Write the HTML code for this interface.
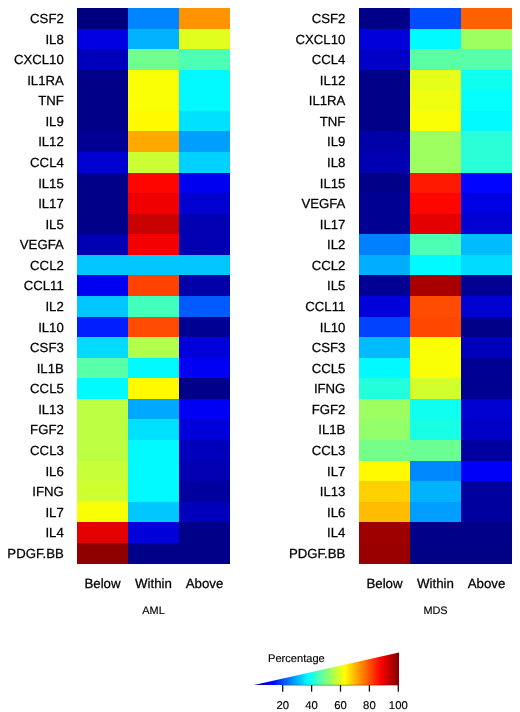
<!DOCTYPE html>
<html><head><meta charset="utf-8"><title>Heatmap</title>
<style>
html,body{margin:0;padding:0;background:#fff;}
body{width:520px;height:712px;overflow:hidden;}
svg{display:block;}
text{font-family:"Liberation Sans",Arial,Helvetica,sans-serif;fill:#000;stroke:#000;stroke-width:0.25px;}
.rl{font-size:13.2px;}
.cl{font-size:13.3px;}
.tt{font-size:10.9px;stroke-width:0.15px;}
.tk{font-size:11.3px;stroke-width:0.15px;}
.pc{font-size:11.1px;stroke-width:0.15px;}
</style></head><body>
<svg width="520" height="712" viewBox="0 0 520 712" shape-rendering="crispEdges" text-rendering="geometricPrecision">
<rect width="520" height="712" fill="#fff"/>
<rect x="77.00" y="8.00" width="51.30" height="20.87" fill="#00007f"/>
<rect x="128.00" y="8.00" width="51.30" height="20.87" fill="#0084ff"/>
<rect x="179.00" y="8.00" width="51.00" height="20.87" fill="#ff9300"/>
<text class="rl" x="63.8" y="22.99" text-anchor="end">CSF2</text>
<rect x="77.00" y="28.57" width="51.30" height="20.87" fill="#0000e0"/>
<rect x="128.00" y="28.57" width="51.30" height="20.87" fill="#00b2ff"/>
<rect x="179.00" y="28.57" width="51.00" height="20.87" fill="#e0ff1e"/>
<text class="rl" x="63.8" y="43.56" text-anchor="end">IL8</text>
<rect x="77.00" y="49.15" width="51.30" height="20.87" fill="#0000bc"/>
<rect x="128.00" y="49.15" width="51.30" height="20.87" fill="#70ff8e"/>
<rect x="179.00" y="49.15" width="51.00" height="20.87" fill="#4cffb2"/>
<text class="rl" x="63.8" y="64.14" text-anchor="end">CXCL10</text>
<rect x="77.00" y="69.72" width="51.30" height="20.87" fill="#000089"/>
<rect x="128.00" y="69.72" width="51.30" height="20.87" fill="#faff05"/>
<rect x="179.00" y="69.72" width="51.00" height="20.87" fill="#00faff"/>
<text class="rl" x="63.8" y="84.71" text-anchor="end">IL1RA</text>
<rect x="77.00" y="90.30" width="51.30" height="20.87" fill="#000089"/>
<rect x="128.00" y="90.30" width="51.30" height="20.87" fill="#faff05"/>
<rect x="179.00" y="90.30" width="51.00" height="20.87" fill="#00faff"/>
<text class="rl" x="63.8" y="105.28" text-anchor="end">TNF</text>
<rect x="77.00" y="110.87" width="51.30" height="20.87" fill="#000089"/>
<rect x="128.00" y="110.87" width="51.30" height="20.87" fill="#fffa00"/>
<rect x="179.00" y="110.87" width="51.00" height="20.87" fill="#00e0ff"/>
<text class="rl" x="63.8" y="125.86" text-anchor="end">IL9</text>
<rect x="77.00" y="131.44" width="51.30" height="20.87" fill="#000093"/>
<rect x="128.00" y="131.44" width="51.30" height="20.87" fill="#ffa800"/>
<rect x="179.00" y="131.44" width="51.00" height="20.87" fill="#009eff"/>
<text class="rl" x="63.8" y="146.43" text-anchor="end">IL12</text>
<rect x="77.00" y="152.02" width="51.30" height="20.87" fill="#0000d1"/>
<rect x="128.00" y="152.02" width="51.30" height="20.87" fill="#ccff33"/>
<rect x="179.00" y="152.02" width="51.00" height="20.87" fill="#00d1ff"/>
<text class="rl" x="63.8" y="167.01" text-anchor="end">CCL4</text>
<rect x="77.00" y="172.59" width="51.30" height="20.87" fill="#000089"/>
<rect x="128.00" y="172.59" width="51.30" height="20.87" fill="#ff0500"/>
<rect x="179.00" y="172.59" width="51.00" height="20.87" fill="#0000f0"/>
<text class="rl" x="63.8" y="187.58" text-anchor="end">IL15</text>
<rect x="77.00" y="193.17" width="51.30" height="20.87" fill="#000089"/>
<rect x="128.00" y="193.17" width="51.30" height="20.87" fill="#f00000"/>
<rect x="179.00" y="193.17" width="51.00" height="20.87" fill="#0000d1"/>
<text class="rl" x="63.8" y="208.15" text-anchor="end">IL17</text>
<rect x="77.00" y="213.74" width="51.30" height="20.87" fill="#000089"/>
<rect x="128.00" y="213.74" width="51.30" height="20.87" fill="#c70000"/>
<rect x="179.00" y="213.74" width="51.00" height="20.87" fill="#0000b2"/>
<text class="rl" x="63.8" y="228.73" text-anchor="end">IL5</text>
<rect x="77.00" y="234.31" width="51.30" height="20.87" fill="#0000b2"/>
<rect x="128.00" y="234.31" width="51.30" height="20.87" fill="#f50000"/>
<rect x="179.00" y="234.31" width="51.00" height="20.87" fill="#0000b2"/>
<text class="rl" x="63.8" y="249.30" text-anchor="end">VEGFA</text>
<rect x="77.00" y="254.89" width="51.30" height="20.87" fill="#00c7ff"/>
<rect x="128.00" y="254.89" width="51.30" height="20.87" fill="#00c7ff"/>
<rect x="179.00" y="254.89" width="51.00" height="20.87" fill="#00c7ff"/>
<text class="rl" x="63.8" y="269.88" text-anchor="end">CCL2</text>
<rect x="77.00" y="275.46" width="51.30" height="20.87" fill="#0000f0"/>
<rect x="128.00" y="275.46" width="51.30" height="20.87" fill="#ff4200"/>
<rect x="179.00" y="275.46" width="51.00" height="20.87" fill="#0000a8"/>
<text class="rl" x="63.8" y="290.45" text-anchor="end">CCL11</text>
<rect x="77.00" y="296.04" width="51.30" height="20.87" fill="#00c7ff"/>
<rect x="128.00" y="296.04" width="51.30" height="20.87" fill="#42ffbc"/>
<rect x="179.00" y="296.04" width="51.00" height="20.87" fill="#005bff"/>
<text class="rl" x="63.8" y="311.02" text-anchor="end">IL2</text>
<rect x="77.00" y="316.61" width="51.30" height="20.87" fill="#001eff"/>
<rect x="128.00" y="316.61" width="51.30" height="20.87" fill="#ff4c00"/>
<rect x="179.00" y="316.61" width="51.00" height="20.87" fill="#000093"/>
<text class="rl" x="63.8" y="331.60" text-anchor="end">IL10</text>
<rect x="77.00" y="337.19" width="51.30" height="20.87" fill="#00dbff"/>
<rect x="128.00" y="337.19" width="51.30" height="20.87" fill="#b2ff4c"/>
<rect x="179.00" y="337.19" width="51.00" height="20.87" fill="#0000db"/>
<text class="rl" x="63.8" y="352.17" text-anchor="end">CSF3</text>
<rect x="77.00" y="357.76" width="51.30" height="20.87" fill="#56ffa8"/>
<rect x="128.00" y="357.76" width="51.30" height="20.87" fill="#00faff"/>
<rect x="179.00" y="357.76" width="51.00" height="20.87" fill="#0000f5"/>
<text class="rl" x="63.8" y="372.75" text-anchor="end">IL1B</text>
<rect x="77.00" y="378.33" width="51.30" height="20.87" fill="#00faff"/>
<rect x="128.00" y="378.33" width="51.30" height="20.87" fill="#fffa00"/>
<rect x="179.00" y="378.33" width="51.00" height="20.87" fill="#000089"/>
<text class="rl" x="63.8" y="393.32" text-anchor="end">CCL5</text>
<rect x="77.00" y="398.91" width="51.30" height="20.87" fill="#bcff42"/>
<rect x="128.00" y="398.91" width="51.30" height="20.87" fill="#00a8ff"/>
<rect x="179.00" y="398.91" width="51.00" height="20.87" fill="#0000f5"/>
<text class="rl" x="63.8" y="413.89" text-anchor="end">IL13</text>
<rect x="77.00" y="419.48" width="51.30" height="20.87" fill="#bcff42"/>
<rect x="128.00" y="419.48" width="51.30" height="20.87" fill="#00e0ff"/>
<rect x="179.00" y="419.48" width="51.00" height="20.87" fill="#0000db"/>
<text class="rl" x="63.8" y="434.47" text-anchor="end">FGF2</text>
<rect x="77.00" y="440.06" width="51.30" height="20.87" fill="#bcff42"/>
<rect x="128.00" y="440.06" width="51.30" height="20.87" fill="#00faff"/>
<rect x="179.00" y="440.06" width="51.00" height="20.87" fill="#0000bc"/>
<text class="rl" x="63.8" y="455.04" text-anchor="end">CCL3</text>
<rect x="77.00" y="460.63" width="51.30" height="20.87" fill="#c7ff38"/>
<rect x="128.00" y="460.63" width="51.30" height="20.87" fill="#00faff"/>
<rect x="179.00" y="460.63" width="51.00" height="20.87" fill="#0000b2"/>
<text class="rl" x="63.8" y="475.62" text-anchor="end">IL6</text>
<rect x="77.00" y="481.20" width="51.30" height="20.87" fill="#d1ff2e"/>
<rect x="128.00" y="481.20" width="51.30" height="20.87" fill="#00faff"/>
<rect x="179.00" y="481.20" width="51.00" height="20.87" fill="#00009e"/>
<text class="rl" x="63.8" y="496.19" text-anchor="end">IFNG</text>
<rect x="77.00" y="501.78" width="51.30" height="20.87" fill="#faff05"/>
<rect x="128.00" y="501.78" width="51.30" height="20.87" fill="#00c7ff"/>
<rect x="179.00" y="501.78" width="51.00" height="20.87" fill="#0000bc"/>
<text class="rl" x="63.8" y="516.76" text-anchor="end">IL7</text>
<rect x="77.00" y="522.35" width="51.30" height="20.87" fill="#e50000"/>
<rect x="128.00" y="522.35" width="51.30" height="20.87" fill="#0000db"/>
<rect x="179.00" y="522.35" width="51.00" height="20.87" fill="#000089"/>
<text class="rl" x="63.8" y="537.34" text-anchor="end">IL4</text>
<rect x="77.00" y="542.93" width="51.30" height="20.57" fill="#8e0000"/>
<rect x="128.00" y="542.93" width="51.30" height="20.57" fill="#000089"/>
<rect x="179.00" y="542.93" width="51.00" height="20.57" fill="#000089"/>
<text class="rl" x="63.8" y="557.91" text-anchor="end">PDGF.BB</text>
<text class="cl" x="102.5" y="588" text-anchor="middle">Below</text>
<text class="cl" x="153.5" y="588" text-anchor="middle">Within</text>
<text class="cl" x="204.5" y="588" text-anchor="middle">Above</text>
<text class="tt" x="153.5" y="614.2" text-anchor="middle">AML</text>
<rect x="359.00" y="8.00" width="51.30" height="20.87" fill="#000089"/>
<rect x="410.00" y="8.00" width="51.30" height="20.87" fill="#004cff"/>
<rect x="461.00" y="8.00" width="51.00" height="20.87" fill="#ff6100"/>
<text class="rl" x="345.4" y="22.99" text-anchor="end">CSF2</text>
<rect x="359.00" y="28.57" width="51.30" height="20.87" fill="#0000db"/>
<rect x="410.00" y="28.57" width="51.30" height="20.87" fill="#00faff"/>
<rect x="461.00" y="28.57" width="51.00" height="20.87" fill="#9eff61"/>
<text class="rl" x="345.4" y="43.56" text-anchor="end">CXCL10</text>
<rect x="359.00" y="49.15" width="51.30" height="20.87" fill="#0000c7"/>
<rect x="410.00" y="49.15" width="51.30" height="20.87" fill="#5bffa3"/>
<rect x="461.00" y="49.15" width="51.00" height="20.87" fill="#56ffa8"/>
<text class="rl" x="345.4" y="64.14" text-anchor="end">CCL4</text>
<rect x="359.00" y="69.72" width="51.30" height="20.87" fill="#000089"/>
<rect x="410.00" y="69.72" width="51.30" height="20.87" fill="#e5ff19"/>
<rect x="461.00" y="69.72" width="51.00" height="20.87" fill="#0ffff0"/>
<text class="rl" x="345.4" y="84.71" text-anchor="end">IL12</text>
<rect x="359.00" y="90.30" width="51.30" height="20.87" fill="#000089"/>
<rect x="410.00" y="90.30" width="51.30" height="20.87" fill="#f0ff0f"/>
<rect x="461.00" y="90.30" width="51.00" height="20.87" fill="#05fffa"/>
<text class="rl" x="345.4" y="105.28" text-anchor="end">IL1RA</text>
<rect x="359.00" y="110.87" width="51.30" height="20.87" fill="#000089"/>
<rect x="410.00" y="110.87" width="51.30" height="20.87" fill="#faff05"/>
<rect x="461.00" y="110.87" width="51.00" height="20.87" fill="#00faff"/>
<text class="rl" x="345.4" y="125.86" text-anchor="end">TNF</text>
<rect x="359.00" y="131.44" width="51.30" height="20.87" fill="#0000a8"/>
<rect x="410.00" y="131.44" width="51.30" height="20.87" fill="#9eff61"/>
<rect x="461.00" y="131.44" width="51.00" height="20.87" fill="#29ffd6"/>
<text class="rl" x="345.4" y="146.43" text-anchor="end">IL9</text>
<rect x="359.00" y="152.02" width="51.30" height="20.87" fill="#0000b2"/>
<rect x="410.00" y="152.02" width="51.30" height="20.87" fill="#9eff61"/>
<rect x="461.00" y="152.02" width="51.00" height="20.87" fill="#29ffd6"/>
<text class="rl" x="345.4" y="167.01" text-anchor="end">IL8</text>
<rect x="359.00" y="172.59" width="51.30" height="20.87" fill="#000089"/>
<rect x="410.00" y="172.59" width="51.30" height="20.87" fill="#ff1900"/>
<rect x="461.00" y="172.59" width="51.00" height="20.87" fill="#0005ff"/>
<text class="rl" x="345.4" y="187.58" text-anchor="end">IL15</text>
<rect x="359.00" y="193.17" width="51.30" height="20.87" fill="#000093"/>
<rect x="410.00" y="193.17" width="51.30" height="20.87" fill="#ff0500"/>
<rect x="461.00" y="193.17" width="51.00" height="20.87" fill="#0000e5"/>
<text class="rl" x="345.4" y="208.15" text-anchor="end">VEGFA</text>
<rect x="359.00" y="213.74" width="51.30" height="20.87" fill="#000093"/>
<rect x="410.00" y="213.74" width="51.30" height="20.87" fill="#e50000"/>
<rect x="461.00" y="213.74" width="51.00" height="20.87" fill="#0000d1"/>
<text class="rl" x="345.4" y="228.73" text-anchor="end">IL17</text>
<rect x="359.00" y="234.31" width="51.30" height="20.87" fill="#007fff"/>
<rect x="410.00" y="234.31" width="51.30" height="20.87" fill="#4cffb2"/>
<rect x="461.00" y="234.31" width="51.00" height="20.87" fill="#00bcff"/>
<text class="rl" x="345.4" y="249.30" text-anchor="end">IL2</text>
<rect x="359.00" y="254.89" width="51.30" height="20.87" fill="#00adff"/>
<rect x="410.00" y="254.89" width="51.30" height="20.87" fill="#00faff"/>
<rect x="461.00" y="254.89" width="51.00" height="20.87" fill="#00dbff"/>
<text class="rl" x="345.4" y="269.88" text-anchor="end">CCL2</text>
<rect x="359.00" y="275.46" width="51.30" height="20.87" fill="#000093"/>
<rect x="410.00" y="275.46" width="51.30" height="20.87" fill="#a80000"/>
<rect x="461.00" y="275.46" width="51.00" height="20.87" fill="#000093"/>
<text class="rl" x="345.4" y="290.45" text-anchor="end">IL5</text>
<rect x="359.00" y="296.04" width="51.30" height="20.87" fill="#0000db"/>
<rect x="410.00" y="296.04" width="51.30" height="20.87" fill="#ff4c00"/>
<rect x="461.00" y="296.04" width="51.00" height="20.87" fill="#0000d1"/>
<text class="rl" x="345.4" y="311.02" text-anchor="end">CCL11</text>
<rect x="359.00" y="316.61" width="51.30" height="20.87" fill="#0042ff"/>
<rect x="410.00" y="316.61" width="51.30" height="20.87" fill="#ff4700"/>
<rect x="461.00" y="316.61" width="51.00" height="20.87" fill="#000089"/>
<text class="rl" x="345.4" y="331.60" text-anchor="end">IL10</text>
<rect x="359.00" y="337.19" width="51.30" height="20.87" fill="#00bcff"/>
<rect x="410.00" y="337.19" width="51.30" height="20.87" fill="#faff05"/>
<rect x="461.00" y="337.19" width="51.00" height="20.87" fill="#0000bc"/>
<text class="rl" x="345.4" y="352.17" text-anchor="end">CSF3</text>
<rect x="359.00" y="357.76" width="51.30" height="20.87" fill="#00faff"/>
<rect x="410.00" y="357.76" width="51.30" height="20.87" fill="#faff05"/>
<rect x="461.00" y="357.76" width="51.00" height="20.87" fill="#000093"/>
<text class="rl" x="345.4" y="372.75" text-anchor="end">CCL5</text>
<rect x="359.00" y="378.33" width="51.30" height="20.87" fill="#24ffdb"/>
<rect x="410.00" y="378.33" width="51.30" height="20.87" fill="#d1ff2e"/>
<rect x="461.00" y="378.33" width="51.00" height="20.87" fill="#000093"/>
<text class="rl" x="345.4" y="393.32" text-anchor="end">IFNG</text>
<rect x="359.00" y="398.91" width="51.30" height="20.87" fill="#9eff61"/>
<rect x="410.00" y="398.91" width="51.30" height="20.87" fill="#0ffff0"/>
<rect x="461.00" y="398.91" width="51.00" height="20.87" fill="#0000d1"/>
<text class="rl" x="345.4" y="413.89" text-anchor="end">FGF2</text>
<rect x="359.00" y="419.48" width="51.30" height="20.87" fill="#93ff6b"/>
<rect x="410.00" y="419.48" width="51.30" height="20.87" fill="#19ffe5"/>
<rect x="461.00" y="419.48" width="51.00" height="20.87" fill="#0000c7"/>
<text class="rl" x="345.4" y="434.47" text-anchor="end">IL1B</text>
<rect x="359.00" y="440.06" width="51.30" height="20.87" fill="#75ff89"/>
<rect x="410.00" y="440.06" width="51.30" height="20.87" fill="#6bff93"/>
<rect x="461.00" y="440.06" width="51.00" height="20.87" fill="#00009e"/>
<text class="rl" x="345.4" y="455.04" text-anchor="end">CCL3</text>
<rect x="359.00" y="460.63" width="51.30" height="20.87" fill="#fffa00"/>
<rect x="410.00" y="460.63" width="51.30" height="20.87" fill="#0089ff"/>
<rect x="461.00" y="460.63" width="51.00" height="20.87" fill="#0000fa"/>
<text class="rl" x="345.4" y="475.62" text-anchor="end">IL7</text>
<rect x="359.00" y="481.20" width="51.30" height="20.87" fill="#ffd100"/>
<rect x="410.00" y="481.20" width="51.30" height="20.87" fill="#00b2ff"/>
<rect x="461.00" y="481.20" width="51.00" height="20.87" fill="#00009e"/>
<text class="rl" x="345.4" y="496.19" text-anchor="end">IL13</text>
<rect x="359.00" y="501.78" width="51.30" height="20.87" fill="#ffbc00"/>
<rect x="410.00" y="501.78" width="51.30" height="20.87" fill="#009eff"/>
<rect x="461.00" y="501.78" width="51.00" height="20.87" fill="#00009e"/>
<text class="rl" x="345.4" y="516.76" text-anchor="end">IL6</text>
<rect x="359.00" y="522.35" width="51.30" height="20.87" fill="#9e0000"/>
<rect x="410.00" y="522.35" width="51.30" height="20.87" fill="#000089"/>
<rect x="461.00" y="522.35" width="51.00" height="20.87" fill="#000089"/>
<text class="rl" x="345.4" y="537.34" text-anchor="end">IL4</text>
<rect x="359.00" y="542.93" width="51.30" height="20.57" fill="#990000"/>
<rect x="410.00" y="542.93" width="51.30" height="20.57" fill="#000084"/>
<rect x="461.00" y="542.93" width="51.00" height="20.57" fill="#000084"/>
<text class="rl" x="345.4" y="557.91" text-anchor="end">PDGF.BB</text>
<text class="cl" x="384.5" y="588" text-anchor="middle">Below</text>
<text class="cl" x="435.5" y="588" text-anchor="middle">Within</text>
<text class="cl" x="486.5" y="588" text-anchor="middle">Above</text>
<text class="tt" x="435.5" y="614.2" text-anchor="middle">MDS</text>
<g shape-rendering="auto">
<defs><linearGradient id="jet" x1="0" y1="0" x2="1" y2="0"><stop offset="0.0%" stop-color="#00007f"/><stop offset="12.5%" stop-color="#0000ff"/><stop offset="25.0%" stop-color="#007fff"/><stop offset="37.5%" stop-color="#00ffff"/><stop offset="50.0%" stop-color="#7fff7f"/><stop offset="62.5%" stop-color="#ffff00"/><stop offset="75.0%" stop-color="#ff7f00"/><stop offset="87.5%" stop-color="#ff0000"/><stop offset="100.0%" stop-color="#7f0000"/></linearGradient></defs>
<polygon points="253.8,685.0 399.0,685.0 399.0,652.5" fill="url(#jet)"/>
<line x1="282.7" y1="685.2" x2="399.0" y2="685.2" stroke="#222" stroke-opacity="0.6" stroke-width="0.8"/>
<line x1="282.7" y1="685.0" x2="282.7" y2="691.7" stroke="#111" stroke-width="1.3"/>
<text class="tk" x="282.7" y="708.6" text-anchor="middle">20</text>
<line x1="311.6" y1="685.0" x2="311.6" y2="691.7" stroke="#111" stroke-width="1.3"/>
<text class="tk" x="311.6" y="708.6" text-anchor="middle">40</text>
<line x1="340.5" y1="685.0" x2="340.5" y2="691.7" stroke="#111" stroke-width="1.3"/>
<text class="tk" x="340.5" y="708.6" text-anchor="middle">60</text>
<line x1="369.4" y1="685.0" x2="369.4" y2="691.7" stroke="#111" stroke-width="1.3"/>
<text class="tk" x="369.4" y="708.6" text-anchor="middle">80</text>
<line x1="398.3" y1="685.0" x2="398.3" y2="691.7" stroke="#111" stroke-width="1.3"/>
<text class="tk" x="398.3" y="708.6" text-anchor="middle">100</text>
<text class="pc" x="268" y="661.5">Percentage</text>
</g>
</svg>
</body></html>
